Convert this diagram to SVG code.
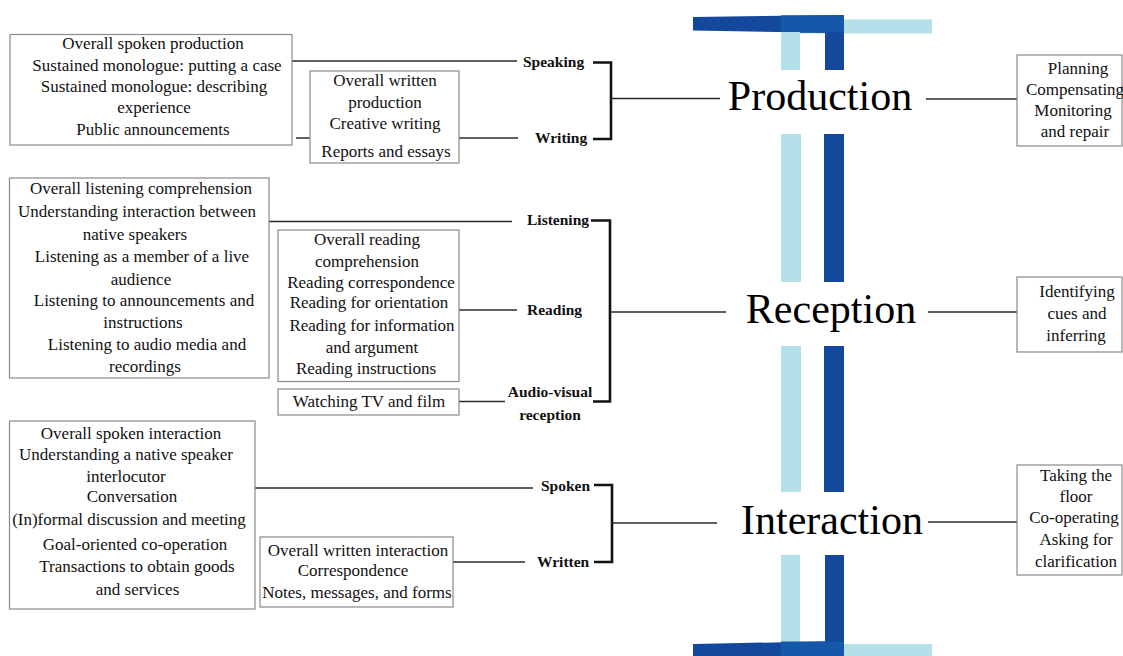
<svg xmlns="http://www.w3.org/2000/svg" width="1123" height="656" viewBox="0 0 1123 656">
  <style>
    .box { fill: #ffffff; stroke: #8a8a8a; stroke-width: 1.2; }
    .t { font-family: "Liberation Serif", "Times New Roman", serif; font-size: 17px; fill: #111; text-anchor: middle; }
    .lbl { font-family: "Liberation Serif", "Times New Roman", serif; font-size: 15.5px; font-weight: bold; fill: #111; }
    .big { font-family: "Liberation Serif", "Times New Roman", serif; font-size: 42px; fill: #000; text-anchor: middle; }
    .ln { stroke: #2a2a2a; stroke-width: 1.5; fill: none; }
    .br { stroke: #111; stroke-width: 2.6; fill: none; }
    .light { fill: #b5e0ea; }
    .dark { fill: #13489c; }
    .mid { fill: #1557a8; }
  </style>

  <!-- decorative bars -->
  <g id="bars">
    <!-- top cap -->
    <rect class="light" x="781" y="19.5" width="151" height="14"/>
    <polygon class="dark" points="693,17 844,15 844,33 693,30.5"/>
    <rect class="mid" x="781" y="15.3" width="63" height="17.5"/>
    <rect class="light" x="781" y="32" width="19" height="38"/>
    <rect class="dark" x="825" y="32" width="19" height="38"/>
    <!-- between Production and Reception -->
    <rect class="light" x="781" y="134" width="20" height="148"/>
    <rect class="dark" x="824" y="134" width="20" height="148"/>
    <!-- between Reception and Interaction -->
    <rect class="light" x="781" y="346" width="20" height="146"/>
    <rect class="dark" x="824" y="346" width="20" height="146"/>
    <!-- bottom cap -->
    <rect class="light" x="781" y="555" width="19" height="90"/>
    <rect class="dark" x="825" y="555" width="19" height="88"/>
    <rect class="light" x="781" y="644" width="151" height="12"/>
    <polygon class="dark" points="693,644 844,641 844,656 693,656"/>
    <rect class="mid" x="781" y="641.5" width="63" height="14.5"/>
  </g>

  <!-- connectors -->
  <g id="connectors">
    <!-- production -->
    <line class="ln" x1="292" y1="61" x2="517" y2="61"/>
    <line class="ln" x1="296" y1="138" x2="518" y2="138"/>
    <path class="br" d="M593,62.5 H611 V139 H593"/>
    <line class="ln" x1="611" y1="98.5" x2="720" y2="98.5"/>
    <line class="ln" x1="926" y1="99" x2="1017" y2="99"/>
    <!-- reception -->
    <line class="ln" x1="269" y1="221.5" x2="512" y2="221.5"/>
    <line class="ln" x1="459" y1="310" x2="517" y2="310"/>
    <line class="ln" x1="459" y1="401.5" x2="505" y2="401.5"/>
    <path class="br" d="M591,220.5 H610 V401.5 H593"/>
    <line class="ln" x1="610" y1="312" x2="726" y2="312"/>
    <line class="ln" x1="928" y1="312" x2="1017" y2="312"/>
    <!-- interaction -->
    <line class="ln" x1="255" y1="488" x2="533" y2="488"/>
    <line class="ln" x1="453" y1="562" x2="525" y2="562"/>
    <path class="br" d="M594,485 H612 V562 H594"/>
    <line class="ln" x1="612" y1="523" x2="717" y2="523"/>
    <line class="ln" x1="928" y1="522" x2="1017" y2="522"/>
  </g>

  <!-- central categories -->
  <g id="production"><text class="big" x="820" y="110">Production</text></g>
  <g id="reception"><text class="big" x="831" y="323">Reception</text></g>
  <g id="interaction"><text class="big" x="832" y="534">Interaction</text></g>

  <!-- branch labels -->
  <g id="speaking"><text class="lbl" x="523" y="67">Speaking</text></g>
  <g id="writing"><text class="lbl" x="535" y="143">Writing</text></g>
  <g id="listening"><text class="lbl" x="527" y="225">Listening</text></g>
  <g id="reading"><text class="lbl" x="527" y="315">Reading</text></g>
  <g id="audio-visual">
    <text class="lbl" x="550" y="397" text-anchor="middle">Audio-visual</text>
    <text class="lbl" x="550" y="420" text-anchor="middle">reception</text>
  </g>
  <g id="spoken"><text class="lbl" x="541" y="491">Spoken</text></g>
  <g id="written"><text class="lbl" x="537" y="567">Written</text></g>

  <!-- activity lists -->
  <g id="spoken-production">
    <rect class="box" x="10" y="34.5" width="282" height="110.5"/>
    <text class="t" x="153" y="49">Overall spoken production</text>
    <text class="t" x="157" y="71">Sustained monologue: putting a case</text>
    <text class="t" x="154" y="92">Sustained monologue: describing</text>
    <text class="t" x="154" y="113">experience</text>
    <text class="t" x="153" y="135">Public announcements</text>
  </g>

  <g id="written-production">
    <rect class="box" x="310" y="71" width="149" height="92"/>
    <text class="t" x="385" y="86">Overall written</text>
    <text class="t" x="385" y="108">production</text>
    <text class="t" x="385" y="129">Creative writing</text>
    <text class="t" x="386" y="157">Reports and essays</text>
  </g>

  <g id="listening-list">
    <rect class="box" x="9.5" y="178" width="259.5" height="200"/>
    <text class="t" x="141" y="194">Overall listening comprehension</text>
    <text class="t" x="137" y="217">Understanding interaction between</text>
    <text class="t" x="135" y="240">native speakers</text>
    <text class="t" x="142" y="262">Listening as a member of a live</text>
    <text class="t" x="141" y="285">audience</text>
    <text class="t" x="144" y="306">Listening to announcements and</text>
    <text class="t" x="143" y="328">instructions</text>
    <text class="t" x="147" y="350">Listening to audio media and</text>
    <text class="t" x="145" y="372">recordings</text>
  </g>

  <g id="reading-list">
    <rect class="box" x="278" y="230" width="181" height="151.5"/>
    <text class="t" x="367" y="245">Overall reading</text>
    <text class="t" x="367" y="267">comprehension</text>
    <text class="t" x="371" y="288">Reading correspondence</text>
    <text class="t" x="369" y="308">Reading for orientation</text>
    <text class="t" x="372" y="331">Reading for information</text>
    <text class="t" x="372" y="353">and argument</text>
    <text class="t" x="366" y="374">Reading instructions</text>
  </g>

  <g id="audio-visual-list">
    <rect class="box" x="278" y="389" width="181" height="26"/>
    <text class="t" x="369" y="407">Watching TV and film</text>
  </g>

  <g id="spoken-interaction">
    <rect class="box" x="9.5" y="421" width="245.5" height="188"/>
    <text class="t" x="131" y="439">Overall spoken interaction</text>
    <text class="t" x="126" y="460">Understanding a native speaker</text>
    <text class="t" x="126" y="482">interlocutor</text>
    <text class="t" x="132" y="502">Conversation</text>
    <text class="t" x="129" y="525">(In)formal discussion and meeting</text>
    <text class="t" x="135" y="550">Goal-oriented co-operation</text>
    <text class="t" x="137" y="572">Transactions to obtain goods</text>
    <text class="t" x="137.5" y="595">and services</text>
  </g>

  <g id="written-interaction">
    <rect class="box" x="260" y="537" width="193" height="70"/>
    <text class="t" x="358" y="556">Overall written interaction</text>
    <text class="t" x="353" y="576">Correspondence</text>
    <text class="t" x="357" y="598">Notes, messages, and forms</text>
  </g>

  <!-- strategies -->
  <g id="production-strategies">
    <rect class="box" x="1017" y="55" width="105" height="91"/>
    <text class="t" x="1078" y="74">Planning</text>
    <text class="t" x="1075" y="95">Compensating</text>
    <text class="t" x="1073" y="116">Monitoring</text>
    <text class="t" x="1075" y="137">and repair</text>
  </g>

  <g id="reception-strategies">
    <rect class="box" x="1017" y="277" width="105" height="75"/>
    <text class="t" x="1077" y="297">Identifying</text>
    <text class="t" x="1077" y="319">cues and</text>
    <text class="t" x="1076" y="341">inferring</text>
  </g>

  <g id="interaction-strategies">
    <rect class="box" x="1017" y="465" width="105" height="110"/>
    <text class="t" x="1076" y="481">Taking the</text>
    <text class="t" x="1076" y="502">floor</text>
    <text class="t" x="1074" y="523">Co-operating</text>
    <text class="t" x="1076" y="545">Asking for</text>
    <text class="t" x="1076" y="567">clarification</text>
  </g>
</svg>
